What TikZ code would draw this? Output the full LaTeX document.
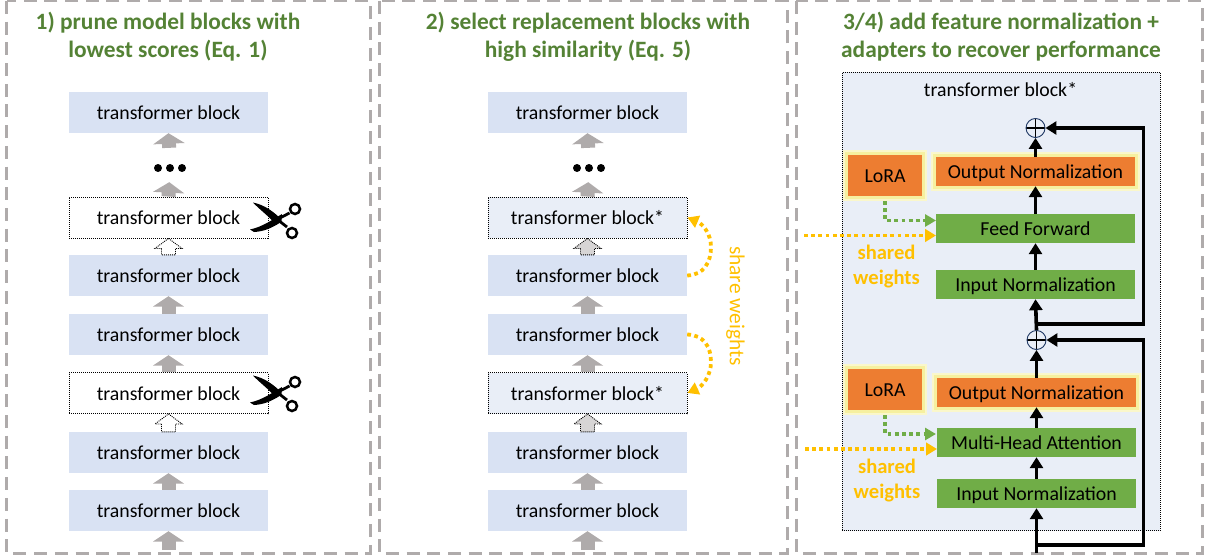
\documentclass[tikz,border=0pt]{standalone}
\usepackage{fontspec}
\setmainfont{Carlito}
\usetikzlibrary{calc,arrows.meta}
\definecolor{panelgray}{HTML}{AFABAB}
\definecolor{blockblue}{HTML}{D9E2F3}
\definecolor{starblue}{HTML}{E9EEF7}
\definecolor{titlegreen}{HTML}{548235}
\definecolor{layergreen}{HTML}{70AD47}
\definecolor{layerorange}{HTML}{ED7D31}
\definecolor{shareyellow}{HTML}{FFC000}
\definecolor{glowyellow}{HTML}{F6F0A0}
\definecolor{plusblue}{HTML}{1F3864}
\tikzset{
	panel/.style={draw=panelgray, line width=3, dash pattern=on 13 off 7.7},
	titletext/.style={font=\fontsize{23.4}{28}\selectfont\bfseries, text=titlegreen, align=center},
	labeltext/.style={font=\fontsize{19.8}{22}\selectfont, text height=14, text depth=0},
	blockbase/.style={minimum width=199, minimum height=41, inner sep=0, labeltext},
	plainblock/.style={blockbase, fill=blockblue},
	cutblock/.style={blockbase, fill=white, draw=black, line width=0.9, dash pattern=on 1 off 1},
	starblock/.style={blockbase, fill=starblue, draw=black, line width=0.9, dash pattern=on 1 off 1},
	layer/.style={minimum width=199, minimum height=29, inner sep=0, fill=layergreen, labeltext},
	glowlayer/.style={layer, fill=layerorange, preaction={draw=glowyellow!55, line width=10}, preaction={draw=glowyellow, line width=6}},
	lorablock/.style={minimum width=74, minimum height=41, inner sep=0, fill=layerorange, labeltext, preaction={draw=glowyellow!55, line width=10}, preaction={draw=glowyellow, line width=6}},
	plusnode/.style={circle, draw=plusblue, line width=0.9, minimum size=19, inner sep=0, path picture={
		\draw[black, line width=1.5] (path picture bounding box.north) -- (path picture bounding box.south);
		\draw[black, line width=1.5] (path picture bounding box.west) -- (path picture bounding box.east);}},
	grayarrow/.style={draw=panelgray, line width=14, -{Triangle[width=31, length=10.5]}},
	flowarrow/.style={draw=black, line width=3.6, -{Triangle[width=13, length=11]}},
	greendots/.style={draw=layergreen, line width=3.8, dash pattern=on 3.8 off 3.4, -{Triangle[width=12, length=11]}},
	yellowdots/.style={draw=shareyellow, line width=3.8, dash pattern=on 3.8 off 3.4, -{Triangle[width=12.5, length=11]}},
	yellowtext/.style={text=shareyellow, font=\fontsize{20.6}{25}\selectfont\bfseries},
	dotnode/.style={circle, fill=black, minimum size=8, inner sep=0}
}
% dotted block arrow from the top of one node to the bottom of another
\def\hollowarrow[#1](#2)(#3){\draw[draw=black, line width=0.9, dash pattern=on 1 off 1, fill=#1]
	(#3.south) -- ($(#3.south)+(13.5,10)$) -- ($(#3.south)+(7,10)$) -- ($(#2.north)+(7,0)$) -- ($(#2.north)+(-7,0)$) -- ($(#3.south)+(-7,10)$) -- ($(#3.south)+(-13.5,10)$) -- cycle;}
\def\cutmark(#1,#2){\begin{scope}[shift={(#1,#2)}]
	\fill[black] (-25,-17.5) .. controls (-13,-15) and (-4,-8) .. (4,0) -- (-2,5) .. controls (-8,-3) and (-18,-10) .. cycle;
	\fill[black] (-28,9.5) .. controls (-16,7) and (-6,0) .. (4,-6) -- (3,2) .. controls (-6,8) and (-14,11.5) .. (-24,12) -- cycle;
	\draw[black, line width=2.8] (0,-1) -- (11.5,-7);
	\draw[black, line width=2.8] (0,0) -- (9,7);
	\draw[black, line width=2.5] (17,-11) circle (5);
	\draw[black, line width=2.5] (14,13) circle (5);
	\end{scope}}

\begin{document}
\begin{tikzpicture}[x=1pt, y=-1pt]
	%%%%% START %%%%%
	\useasboundingbox (0,0) rectangle (1207,559);
	
	\draw[panel] (6.5,1) rectangle (370,553);
	\draw[panel] (379,1) rectangle (787,553);
	\draw[panel] (796,1) rectangle (1202,553);
	
	\node[titletext] (titleA) at (168,37) {1) prune model blocks with\\lowest scores (Eq. 1)};
	\node[titletext] (titleB) at (588,37) {2) select replacement blocks with\\high similarity (Eq. 5)};
	\node[titletext] (titleC) at (1001,37) {3/4) add feature normalization +\\adapters to recover performance};
	
	% left column
	\node[plainblock] (leftA) at (168.5,112.5) {transformer block};
	\node[cutblock] (leftB) at (168.5,217.5) {transformer block};
	\node[plainblock] (leftC) at (168.5,275.5) {transformer block};
	\node[plainblock] (leftD) at (168.5,334.5) {transformer block};
	\node[cutblock] (leftE) at (168.5,393) {transformer block};
	\node[plainblock] (leftF) at (168.5,452.5) {transformer block};
	\node[plainblock] (leftG) at (168.5,510.5) {transformer block};
	\coordinate (leftIn) at (168.5,550);
	\node[dotnode] (leftDotA) at (158,168) {};
	\node[dotnode] (leftDotB) at (170,168) {};
	\node[dotnode] (leftDotC) at (182,168) {};
	
	\draw[grayarrow, shorten <=16] (leftDotB) -- (leftA.south);
	\draw[grayarrow, shorten >=10] (leftB.north) -- (leftDotB);
	\draw[grayarrow] (leftD.north) -- (leftC.south);
	\draw[grayarrow] (leftE.north) -- (leftD.south);
	\draw[grayarrow] (leftG.north) -- (leftF.south);
	\draw[grayarrow] (leftIn) -- (leftG.south);
	\hollowarrow[white](leftC)(leftB);
	\hollowarrow[white](leftF)(leftE);
	
	\cutmark(278,220);
	\cutmark(278,393);
	
	% middle column
	\node[plainblock] (midA) at (587.5,112.5) {transformer block};
	\node[starblock] (midB) at (587.5,217.5) {transformer block*};
	\node[plainblock] (midC) at (587.5,275.5) {transformer block};
	\node[plainblock] (midD) at (587.5,334.5) {transformer block};
	\node[starblock] (midE) at (587.5,393) {transformer block*};
	\node[plainblock] (midF) at (587.5,452.5) {transformer block};
	\node[plainblock] (midG) at (587.5,510.5) {transformer block};
	\coordinate (midIn) at (587.5,550);
	\node[dotnode] (midDotA) at (577,168) {};
	\node[dotnode] (midDotB) at (589,168) {};
	\node[dotnode] (midDotC) at (601,168) {};
	
	\draw[grayarrow, shorten <=16] (midDotB) -- (midA.south);
	\draw[grayarrow, shorten >=10] (midB.north) -- (midDotB);
	\draw[grayarrow] (midD.north) -- (midC.south);
	\draw[grayarrow] (midE.north) -- (midD.south);
	\draw[grayarrow] (midG.north) -- (midF.south);
	\draw[grayarrow] (midIn) -- (midG.south);
	\hollowarrow[panelgray!50](midC)(midB);
	\hollowarrow[panelgray!50](midF)(midE);
	
	\draw[yellowdots] (midC.east) .. controls (704,275) and (711,262) .. (711,247) .. controls (711,234) and (703,224) .. (midB.east);
	\draw[yellowdots] (midD.east) .. controls (704,335) and (711,347) .. (711,362) .. controls (711,375) and (703,386) .. (midE.east);
	\node[text=shareyellow, font=\fontsize{21.4}{24}\selectfont, rotate=-90] (shareLabel) at (735.5,306) {share weights};
	
	% right column
	\node[draw=black, line width=0.9, dash pattern=on 1 off 1, fill=starblue, minimum width=318, minimum height=458, inner sep=0] (outerBlock) at (1001,301.5) {};
	\node[labeltext] (outerLabel) at (1000.5,90) {transformer block*};
	
	\node[plusnode] (plusA) at (1035.5,128) {};
	\node[glowlayer] (outA) at (1035.5,171.5) {Output Normalization};
	\node[layer] (feedA) at (1035.5,228.5) {Feed Forward};
	\node[layer] (inA) at (1035.5,284.5) {Input Normalization};
	\node[lorablock] (loraA) at (885,175.5) {LoRA};
	
	\node[plusnode] (plusB) at (1036.5,340) {};
	\node[glowlayer] (outB) at (1036.5,392.5) {Output Normalization};
	\node[layer] (attnB) at (1036.5,442.5) {Multi-Head Attention};
	\node[layer] (inB) at (1036.5,493.5) {Input Normalization};
	\node[lorablock] (loraB) at (885,389.5) {LoRA};
	
	\draw[flowarrow] (outA.north) -- (plusA.south);
	\draw[flowarrow] (feedA.north) -- (outA.south);
	\draw[flowarrow] (inA.north) -- (feedA.south);
	\draw[flowarrow] (plusB.north) -- (inA.south);
	\draw[flowarrow] (outB.north) -- (plusB.south);
	\draw[flowarrow] (attnB.north) -- (outB.south);
	\draw[flowarrow] (inB.north) -- (attnB.south);
	
	\coordinate (bottomIn) at (1036.5,553);
	\coordinate (bottomTurn) at (1036.5,545);
	\coordinate (railB) at (1143.5,545);
	\coordinate (midTurn) at (1035.5,324);
	\coordinate (railA) at (1143.5,324);
	\draw[flowarrow] (bottomIn) -- (inB.south);
	\draw[flowarrow] (bottomTurn) -- (railB) |- (plusB.east);
	\draw[flowarrow] (midTurn) -- (railA) |- (plusA.east);
	
	\coordinate (feedEntry) at (936,220.5);
	\coordinate (attnEntry) at (936,434);
	\draw[greendots] (loraA.south |- 0,201) |- (feedEntry);
	\draw[greendots] (loraB.south |- 0,415) |- (attnEntry);
	
	\coordinate (sharedStartA) at (804,235.5);
	\coordinate (sharedEndA) at (936,235.5);
	\coordinate (sharedStartB) at (805,449);
	\coordinate (sharedEndB) at (937,449);
	\draw[yellowdots] (sharedStartA) -- (sharedEndA);
	\draw[yellowdots] (sharedStartB) -- (sharedEndB);
	
	\node[yellowtext, align=center] (sharedA) at (886.5,266.5) {shared\\weights};
	\node[yellowtext, align=center] (sharedB) at (887,480.5) {shared\\weights};
	
	%%%%% END %%%%%
\end{tikzpicture}
\end{document}
